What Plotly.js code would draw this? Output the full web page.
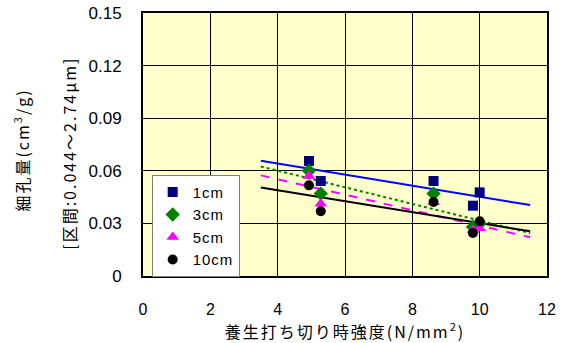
<!DOCTYPE html>
<html><head><meta charset="utf-8">
<script src="https://cdn.plot.ly/plotly-3.0.1.min.js"></script>
<style>html,body{margin:0;padding:0;background:#fff}#chart{width:569px;height:343px}
.xtitle, .annotation-text {letter-spacing: 2px}
.legendtext {letter-spacing: 1px}
</style>
</head><body><div id="chart"></div>
<script>
const strength = [4.93, 5.28, 8.63, 9.8, 10.0];
const pore1cm  = [0.0656, 0.0542, 0.0542, 0.0401, 0.0477];
const pore3cm  = [0.0600, 0.0470, 0.0470, 0.0280, 0.0300];
const pore5cm  = [0.0570, 0.0412, 0.0420, 0.0262, 0.0272];
const pore10cm = [0.0517, 0.0369, 0.0422, 0.0245, 0.0312];
const seriesNames = ['1cm', '3cm', '5cm', '10cm'];
const trendRange = [3.5, 11.5];
const xTicks = [0, 2, 4, 6, 8, 10, 12];
const yTicks = [0, 0.03, 0.06, 0.09, 0.12, 0.15];
const yTickText = ['0', '0.03', '0.06', '0.09', '0.12', '0.15'];

function fit(x, y) {
  const n = x.length;
  const mx = x.reduce((a, b) => a + b, 0) / n;
  const my = y.reduce((a, b) => a + b, 0) / n;
  let sxy = 0, sxx = 0;
  for (let i = 0; i < n; i++) { sxy += (x[i]-mx)*(y[i]-my); sxx += (x[i]-mx)**2; }
  const b = sxy / sxx, a = my - b * mx;
  return trendRange.map(v => a + b * v);
}

const styles = [
  {data: pore1cm,  mk: {symbol: 'square', color: '#000080', size: 10}, ln: {color: '#0000FF', width: 2, dash: 'solid'}},
  {data: pore3cm,  mk: {symbol: 'diamond', color: '#008000', size: 11}, ln: {color: '#008000', width: 2, dash: 'dot'}},
  {data: pore5cm,  mk: {symbol: 'triangle-up', color: '#FF00FF', size: 11}, ln: {color: '#FF00FF', width: 2, dash: 'dash'}},
  {data: pore10cm, mk: {symbol: 'circle', color: '#000000', size: 10}, ln: {color: '#000000', width: 2, dash: 'solid'}}
];

const traces = [];
styles.forEach((s, i) => {
  traces.push({x: trendRange, y: fit(strength, s.data), mode: 'lines', line: s.ln, showlegend: false, hoverinfo: 'skip'});
});
styles.forEach((s, i) => {
  traces.push({x: strength, y: s.data, mode: 'markers', name: seriesNames[i], marker: s.mk});
});

const jp = '"Noto Sans CJK JP", "Liberation Sans", sans-serif';
const num = '"Liberation Sans Narrow", "Liberation Sans", Arial, sans-serif';
const layout = {
  width: 569, height: 343,
  margin: {l: 143, r: 21.5, t: 12.5, b: 67.3},
  paper_bgcolor: '#ffffff', plot_bgcolor: '#FFFFCC',
  font: {family: num, size: 12, color: '#000'},
  xaxis: {
    range: [0, 12], tickvals: xTicks, ticktext: xTicks.map(String),
    showgrid: true, gridcolor: '#000', gridwidth: 1,
    showline: true, linecolor: '#000', linewidth: 2, mirror: true,
    ticks: '', zeroline: false, ticklabelstandoff: 18,
    tickfont: {family: num, size: 16},
    title: {text: '養生打ち切り時強度(N/mm<sup>2</sup>)', font: {family: jp, size: 16}, standoff: 0}
  },
  yaxis: {
    range: [0, 0.15], tickvals: yTicks, ticktext: yTickText,
    showgrid: true, gridcolor: '#000', gridwidth: 1,
    showline: true, linecolor: '#000', linewidth: 2, mirror: true,
    ticks: '', zeroline: false, ticklabelstandoff: 16,
    tickfont: {family: num, size: 17}
  },
  legend: {
    x: 0.0215, y: 0.385, xanchor: 'left', yanchor: 'top',
    bgcolor: '#ffffff', bordercolor: '#808080', borderwidth: 1,
    font: {family: num, size: 15}, itemwidth: 30
  },
  annotations: [
    {text: '細孔量(cm<sup>3</sup>/g)', textangle: -90, xref: 'paper', yref: 'paper', x: -0.30, y: 0.48,
     xanchor: 'center', yanchor: 'middle', showarrow: false, font: {family: jp, size: 16}},
    {text: '[区間:0.044～2.74μm]', textangle: -90, xref: 'paper', yref: 'paper', x: -0.183, y: 0.465,
     xanchor: 'center', yanchor: 'middle', showarrow: false, font: {family: jp, size: 16}}
  ],
  showlegend: true
};
Plotly.newPlot('chart', traces, layout, {displayModeBar: false, staticPlot: true});
</script></body></html>
